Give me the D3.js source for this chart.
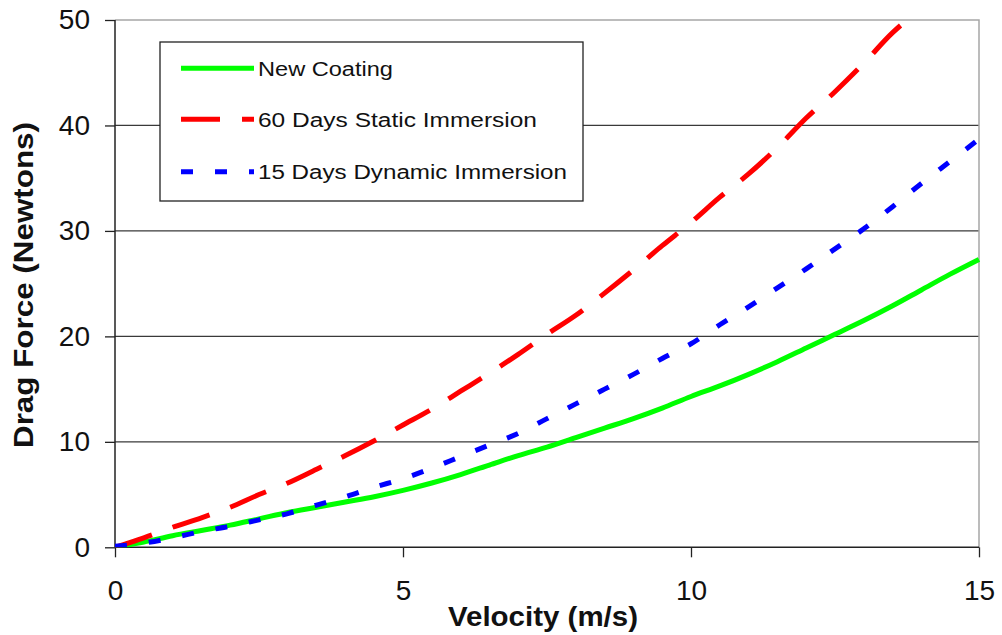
<!DOCTYPE html>
<html>
<head>
<meta charset="utf-8">
<script src="https://cdn.jsdelivr.net/npm/d3@7"></script>
<style>
  html, body { margin: 0; padding: 0; background: #fff; }
  svg { display: block; font-family: "Liberation Sans", Arial, sans-serif; }
</style>
</head>
<body>
<svg id="chart" width="1002" height="635"></svg>
<script>
// Velocity samples (m/s)
const velocity = [0, 0.5, 1, 1.5, 2, 2.5, 3, 3.5, 4, 4.5, 5, 5.5, 6, 6.5, 7, 7.5,
                  8, 8.5, 9, 9.5, 10, 10.5, 11, 11.5, 12, 12.5, 13, 13.5, 14, 14.5, 15];

// Drag force (N) for each surface condition
const newCoating = [0, 0.5, 1.1, 1.6, 2.1, 2.7, 3.3, 3.8, 4.3, 4.8, 5.4, 6.1, 6.9, 7.8, 8.7, 9.5,
                    10.4, 11.3, 12.2, 13.2, 14.3, 15.3, 16.4, 17.6, 18.9, 20.2, 21.5, 22.9, 24.4, 25.9, 27.3];
const staticVelocity = [0, 0.5, 1, 1.5, 2, 2.5, 3, 3.5, 4, 4.5, 5, 5.5, 6, 6.5, 7, 7.5,
                        8, 8.5, 9, 9.5, 10, 10.5, 11, 11.5, 12, 12.5, 13, 13.5, 13.75];
const staticImmersion = [0, 0.9, 1.9, 2.8, 3.8, 5.0, 6.1, 7.4, 8.7, 10.1, 11.6, 13.1, 14.8, 16.5, 18.3, 20.2,
                         22.0, 24.1, 26.3, 28.6, 30.8, 33.2, 35.4, 37.9, 40.7, 43.2, 45.9, 48.8, 50.0];
const dynamicImmersion = [0.1, 0.4, 0.9, 1.5, 2.0, 2.6, 3.2, 4.0, 4.8, 5.7, 6.5, 7.5, 8.6, 9.7, 10.8, 12.2,
                          13.6, 15.0, 16.4, 17.9, 19.3, 21.1, 22.8, 24.6, 26.4, 28.3, 30.2, 32.3, 34.5, 36.6, 38.7];

const seriesNames = ["New Coating", "60 Days Static Immersion", "15 Days Dynamic Immersion"];
const xTicks = [0, 5, 10, 15];
const yTicks = [0, 10, 20, 30, 40, 50];

const series = [
  { name: seriesNames[0], xs: velocity, ys: newCoating, color: "#00ff00", dash: null, textLen: 135 },
  { name: seriesNames[1], xs: staticVelocity, ys: staticImmersion, color: "#ff0000", dash: "39 22", textLen: 279 },
  { name: seriesNames[2], xs: velocity, ys: dynamicImmersion, color: "#0000ff", dash: "12 22", textLen: 309 }
];

const svg = d3.select("#chart");
const plotLeft = 115, plotRight = 979, plotTop = 20, plotBottom = 547.3;

const x = d3.scaleLinear().domain([0, 15]).range([plotLeft, plotRight]);
const y = d3.scaleLinear().domain([0, 50]).range([plotBottom, plotTop]);

// Horizontal gridlines
svg.append("g")
  .selectAll("line")
  .data(yTicks.filter(d => d > 0 && d < 50))
  .join("line")
  .attr("x1", plotLeft).attr("x2", plotRight)
  .attr("y1", d => y(d)).attr("y2", d => y(d))
  .attr("stroke", "#3a3a3a").attr("stroke-width", 1.3);

// Plot frame: grey top and right edges
svg.append("path")
  .attr("d", `M${plotLeft},${y(50)}H${plotRight}V${plotBottom}`)
  .attr("fill", "none").attr("stroke", "#a6a6a6").attr("stroke-width", 1.5);

// Y axis
const yAxis = svg.append("g")
  .attr("transform", `translate(${plotLeft},0)`)
  .call(d3.axisLeft(y).tickValues(yTicks).tickSize(10).tickSizeOuter(0).tickPadding(15));
yAxis.select(".domain").remove();
yAxis.selectAll(".tick line").attr("stroke", "#222").attr("stroke-width", 1.3);
yAxis.selectAll(".tick text")
  .attr("font-size", 28).attr("fill", "#111")
  .attr("font-family", "'Liberation Sans', Arial, sans-serif");
svg.append("line")
  .attr("x1", plotLeft).attr("x2", plotLeft).attr("y1", plotTop).attr("y2", plotBottom)
  .attr("stroke", "#222").attr("stroke-width", 1.5);

// X axis
const xAxis = svg.append("g")
  .attr("transform", `translate(0,${plotBottom})`)
  .call(d3.axisBottom(x).tickValues(xTicks).tickSize(10).tickSizeOuter(0).tickPadding(23));
xAxis.select(".domain").remove();
xAxis.selectAll(".tick line").attr("stroke", "#222").attr("stroke-width", 1.3);
xAxis.selectAll(".tick text")
  .attr("font-size", 28).attr("fill", "#111")
  .attr("font-family", "'Liberation Sans', Arial, sans-serif");
svg.append("line")
  .attr("x1", plotLeft).attr("x2", plotRight).attr("y1", plotBottom).attr("y2", plotBottom)
  .attr("stroke", "#222").attr("stroke-width", 1.5);

// Curves, clipped to the plot area
svg.append("clipPath").attr("id", "plot-clip")
  .append("rect").attr("x", plotLeft).attr("y", plotTop)
  .attr("width", plotRight - plotLeft + 3).attr("height", plotBottom - plotTop);

const line = d3.line().x(d => x(d[0])).y(d => y(d[1])).curve(d3.curveMonotoneX);
const curves = svg.append("g").attr("clip-path", "url(#plot-clip)");
series.forEach(s => {
  const pts = s.xs.map((v, i) => [v, s.ys[i]]);
  curves.append("path")
    .attr("d", line(pts))
    .attr("fill", "none")
    .attr("stroke", s.color)
    .attr("stroke-width", 5)
    .attr("stroke-dasharray", s.dash)
    .attr("stroke-linejoin", "round");
});

// Legend
const legend = svg.append("g");
legend.append("rect")
  .attr("x", 160).attr("y", 42).attr("width", 423).attr("height", 159)
  .attr("fill", "#fff").attr("stroke", "#222").attr("stroke-width", 1.3);
const rowY = [68.3, 119.3, 171.7];
series.forEach((s, i) => {
  legend.append("line")
    .attr("x1", 181).attr("x2", 254)
    .attr("y1", rowY[i]).attr("y2", rowY[i])
    .attr("stroke", s.color).attr("stroke-width", 5)
    .attr("stroke-dasharray", s.dash);
  legend.append("text")
    .attr("x", 258).attr("y", rowY[i] + 7.5)
    .attr("font-size", 20).attr("fill", "#111")
    .attr("textLength", s.textLen).attr("lengthAdjust", "spacingAndGlyphs")
    .text(s.name);
});

// Axis titles
svg.append("text")
  .attr("x", 543).attr("y", 626)
  .attr("text-anchor", "middle")
  .attr("font-size", 28).attr("font-weight", "bold").attr("fill", "#111")
  .attr("textLength", 190).attr("lengthAdjust", "spacingAndGlyphs")
  .text("Velocity (m/s)");
svg.append("text")
  .attr("transform", "translate(33,285) rotate(-90)")
  .attr("text-anchor", "middle")
  .attr("font-size", 28).attr("font-weight", "bold").attr("fill", "#111")
  .attr("textLength", 326).attr("lengthAdjust", "spacingAndGlyphs")
  .text("Drag Force (Newtons)");
</script>
</body>
</html>
